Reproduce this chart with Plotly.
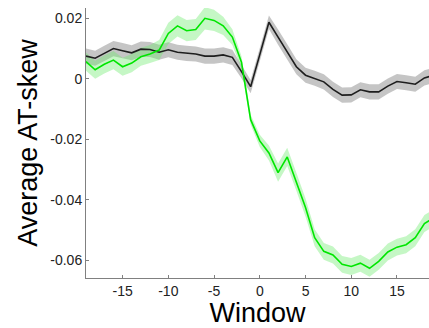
import plotly.graph_objects as go

# Window offsets
window = list(range(-19, 20))

# Mean AT-skew per window, and half-width of the shaded band
green_mean = [0.0057, 0.0030, 0.0048, 0.0062, 0.0040, 0.0052, 0.0073, 0.0082, 0.0095, 0.0150,
              0.0175, 0.0159, 0.0163, 0.0200, 0.0193, 0.0175, 0.0138, 0.0055, -0.0135, -0.0205,
              -0.0245, -0.0310, -0.0258, -0.0340, -0.0425, -0.0525, -0.0570, -0.0582, -0.0613, -0.0620,
              -0.0609, -0.0626, -0.0603, -0.0572, -0.0556, -0.0548, -0.0525, -0.0478, -0.0460]
green_err = [0.0030, 0.0030, 0.0030, 0.0030, 0.0030, 0.0030, 0.0030, 0.0030, 0.0033, 0.0035,
             0.0035, 0.0035, 0.0035, 0.0037, 0.0035, 0.0030, 0.0026, 0.0020, 0.0016, 0.0020,
             0.0025, 0.0030, 0.0030, 0.0030, 0.0030, 0.0028, 0.0028, 0.0028, 0.0028, 0.0028,
             0.0028, 0.0028, 0.0028, 0.0028, 0.0028, 0.0028, 0.0028, 0.0028, 0.0028]

black_mean = [0.0075, 0.0068, 0.0084, 0.0100, 0.0093, 0.0086, 0.0098, 0.0097, 0.0088, 0.0096,
              0.0088, 0.0084, 0.0082, 0.0075, 0.0075, 0.0079, 0.0071, 0.0024, -0.0026, 0.0080,
              0.0187, 0.0138, 0.0089, 0.0040, 0.0012, 0.0002, -0.0010, -0.0035, -0.0054, -0.0053,
              -0.0036, -0.0043, -0.0043, -0.0024, -0.0009, -0.0013, -0.0018, 0.0003, 0.0012]
black_err = [0.0025] * 17 + [0.0022, 0.0022, 0.0022, 0.0022] + [0.0025] * 18

xtick_vals = [-15, -10, -5, 0, 5, 10, 15]
xtick_text = ["-15", "-10", "-5", "0", "5", "10", "15"]
ytick_vals = [0.02, 0, -0.02, -0.04, -0.06]
ytick_text = ["0.02", "0", "-0.02", "-0.04", "-0.06"]


def band(mean, err):
    upper = [m + e for m, e in zip(mean, err)]
    lower = [m - e for m, e in zip(mean, err)]
    return window + window[::-1], upper + lower[::-1]


fig = go.Figure()

bx, by = band(black_mean, black_err)
fig.add_trace(go.Scatter(x=bx, y=by, fill="toself", mode="none",
                         fillcolor="rgba(140,140,140,0.5)", hoverinfo="skip"))
gx, gy = band(green_mean, green_err)
fig.add_trace(go.Scatter(x=gx, y=gy, fill="toself", mode="none",
                         fillcolor="rgba(110,235,110,0.4)", hoverinfo="skip"))
fig.add_trace(go.Scatter(x=window, y=black_mean, mode="lines",
                         line=dict(color="rgb(30,30,30)", width=1.6)))
fig.add_trace(go.Scatter(x=window, y=green_mean, mode="lines",
                         line=dict(color="rgb(0,230,0)", width=1.6)))

axis_font = dict(family="Liberation Sans, Arial, sans-serif", size=14, color="#222")
title_font = dict(family="Liberation Sans, Arial, sans-serif", size=27, color="black")

fig.update_layout(
    width=429, height=328,
    margin=dict(l=86, r=0, t=8, b=50),
    paper_bgcolor="white", plot_bgcolor="white",
    showlegend=False,
    xaxis=dict(range=[-19, 18.5], tickvals=xtick_vals, ticktext=xtick_text,
               ticks="inside", ticklen=3, tickcolor="gray",
               showline=True, linecolor="gray", linewidth=1,
               showgrid=False, zeroline=False, tickfont=axis_font,
               title=dict(text="Window", font=title_font, standoff=2)),
    yaxis=dict(range=[-0.0658, 0.0234], tickvals=ytick_vals, ticktext=ytick_text,
               ticks="inside", ticklen=3, tickcolor="gray",
               showline=True, linecolor="gray", linewidth=1,
               showgrid=False, zeroline=False, tickfont=axis_font,
               title=dict(text="Average AT-skew", font=title_font, standoff=4)),
)

fig.write_html("out.html")
